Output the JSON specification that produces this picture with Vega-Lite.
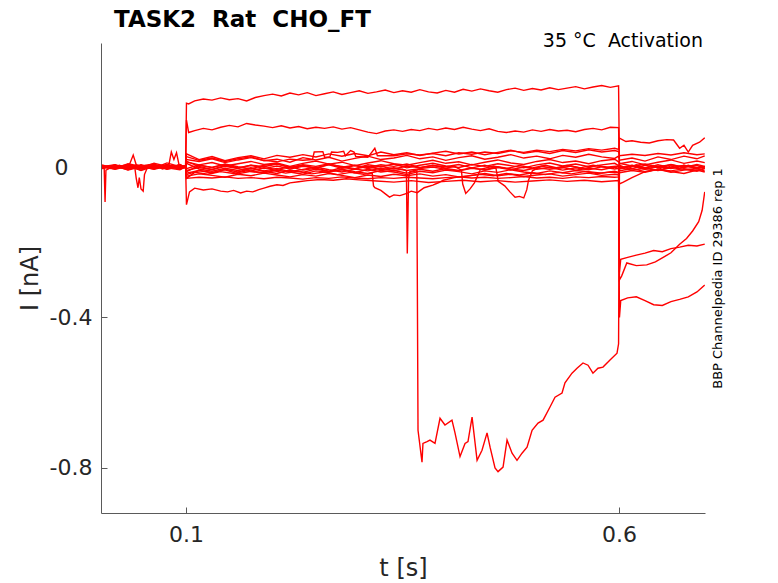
{
  "$schema": "https://vega.github.io/schema/vega-lite/v6.json",
  "description": "Current traces of a voltage-clamp activation protocol, several sweeps overlaid.",
  "width": 604,
  "height": 470,
  "autosize": {"type": "none"},
  "padding": {"left": 101, "top": 43, "right": 73, "bottom": 70},
  "title": {
    "text": "TASK2\u00a0 Rat\u00a0 CHO_FT",
    "anchor": "start",
    "frame": "group",
    "dx": 13,
    "offset": -18,
    "baseline": "alphabetic",
    "font": "DejaVu Sans",
    "fontSize": 23,
    "fontWeight": "bold",
    "color": "#000000"
  },
  "datasets": {
    "sweeps": [
      {"sweep": "A", "t": 0.003, "i": 0.002}, {"sweep": "A", "t": 0.013, "i": -0.004}, {"sweep": "A", "t": 0.023, "i": 0.005}, {"sweep": "A", "t": 0.033, "i": -0.003}, {"sweep": "A", "t": 0.043, "i": 0.006}, {"sweep": "A", "t": 0.053, "i": -0.002}, {"sweep": "A", "t": 0.063, "i": 0.004}, {"sweep": "A", "t": 0.073, "i": -0.005}, {"sweep": "A", "t": 0.083, "i": 0.003}, {"sweep": "A", "t": 0.093, "i": -0.002}, {"sweep": "A", "t": 0.0995, "i": 0.001},
      {"sweep": "A", "t": 0.1005, "i": 0.17}, {"sweep": "A", "t": 0.103, "i": 0.168}, {"sweep": "A", "t": 0.11, "i": 0.176}, {"sweep": "A", "t": 0.12, "i": 0.181}, {"sweep": "A", "t": 0.13, "i": 0.178}, {"sweep": "A", "t": 0.14, "i": 0.184}, {"sweep": "A", "t": 0.15, "i": 0.179}, {"sweep": "A", "t": 0.16, "i": 0.182}, {"sweep": "A", "t": 0.17, "i": 0.176}, {"sweep": "A", "t": 0.18, "i": 0.185}, {"sweep": "A", "t": 0.19, "i": 0.19}, {"sweep": "A", "t": 0.2, "i": 0.194}, {"sweep": "A", "t": 0.21, "i": 0.189}, {"sweep": "A", "t": 0.22, "i": 0.197}, {"sweep": "A", "t": 0.23, "i": 0.192}, {"sweep": "A", "t": 0.24, "i": 0.198}, {"sweep": "A", "t": 0.25, "i": 0.19}, {"sweep": "A", "t": 0.26, "i": 0.195}, {"sweep": "A", "t": 0.27, "i": 0.2}, {"sweep": "A", "t": 0.28, "i": 0.193}, {"sweep": "A", "t": 0.29, "i": 0.198}, {"sweep": "A", "t": 0.3, "i": 0.203}, {"sweep": "A", "t": 0.31, "i": 0.196}, {"sweep": "A", "t": 0.32, "i": 0.2}, {"sweep": "A", "t": 0.33, "i": 0.205}, {"sweep": "A", "t": 0.34, "i": 0.198}, {"sweep": "A", "t": 0.35, "i": 0.203}, {"sweep": "A", "t": 0.36, "i": 0.199}, {"sweep": "A", "t": 0.37, "i": 0.206}, {"sweep": "A", "t": 0.38, "i": 0.2}, {"sweep": "A", "t": 0.39, "i": 0.197}, {"sweep": "A", "t": 0.4, "i": 0.204}, {"sweep": "A", "t": 0.41, "i": 0.199}, {"sweep": "A", "t": 0.42, "i": 0.207}, {"sweep": "A", "t": 0.43, "i": 0.202}, {"sweep": "A", "t": 0.44, "i": 0.208}, {"sweep": "A", "t": 0.45, "i": 0.203}, {"sweep": "A", "t": 0.46, "i": 0.199}, {"sweep": "A", "t": 0.47, "i": 0.206}, {"sweep": "A", "t": 0.48, "i": 0.21}, {"sweep": "A", "t": 0.49, "i": 0.204}, {"sweep": "A", "t": 0.5, "i": 0.209}, {"sweep": "A", "t": 0.51, "i": 0.205}, {"sweep": "A", "t": 0.52, "i": 0.211}, {"sweep": "A", "t": 0.53, "i": 0.206}, {"sweep": "A", "t": 0.54, "i": 0.21}, {"sweep": "A", "t": 0.55, "i": 0.214}, {"sweep": "A", "t": 0.56, "i": 0.208}, {"sweep": "A", "t": 0.57, "i": 0.213}, {"sweep": "A", "t": 0.58, "i": 0.217}, {"sweep": "A", "t": 0.59, "i": 0.212}, {"sweep": "A", "t": 0.5995, "i": 0.216},
      {"sweep": "A", "t": 0.6005, "i": 0.005}, {"sweep": "A", "t": 0.61, "i": -0.004}, {"sweep": "A", "t": 0.62, "i": 0.006}, {"sweep": "A", "t": 0.63, "i": -0.002}, {"sweep": "A", "t": 0.64, "i": 0.004}, {"sweep": "A", "t": 0.65, "i": -0.006}, {"sweep": "A", "t": 0.66, "i": 0.003}, {"sweep": "A", "t": 0.67, "i": -0.003}, {"sweep": "A", "t": 0.68, "i": 0.005}, {"sweep": "A", "t": 0.69, "i": -0.002}, {"sweep": "A", "t": 0.699, "i": 0.002},

      {"sweep": "B", "t": 0.003, "i": -0.001}, {"sweep": "B", "t": 0.018, "i": 0.005}, {"sweep": "B", "t": 0.033, "i": -0.003}, {"sweep": "B", "t": 0.048, "i": 0.006}, {"sweep": "B", "t": 0.063, "i": -0.004}, {"sweep": "B", "t": 0.078, "i": 0.003}, {"sweep": "B", "t": 0.093, "i": -0.002}, {"sweep": "B", "t": 0.0995, "i": 0.002},
      {"sweep": "B", "t": 0.1005, "i": 0.125}, {"sweep": "B", "t": 0.103, "i": 0.092}, {"sweep": "B", "t": 0.11, "i": 0.097}, {"sweep": "B", "t": 0.12, "i": 0.103}, {"sweep": "B", "t": 0.13, "i": 0.099}, {"sweep": "B", "t": 0.14, "i": 0.106}, {"sweep": "B", "t": 0.15, "i": 0.111}, {"sweep": "B", "t": 0.16, "i": 0.107}, {"sweep": "B", "t": 0.17, "i": 0.116}, {"sweep": "B", "t": 0.18, "i": 0.112}, {"sweep": "B", "t": 0.19, "i": 0.109}, {"sweep": "B", "t": 0.2, "i": 0.105}, {"sweep": "B", "t": 0.21, "i": 0.11}, {"sweep": "B", "t": 0.22, "i": 0.104}, {"sweep": "B", "t": 0.23, "i": 0.108}, {"sweep": "B", "t": 0.24, "i": 0.102}, {"sweep": "B", "t": 0.25, "i": 0.106}, {"sweep": "B", "t": 0.26, "i": 0.103}, {"sweep": "B", "t": 0.27, "i": 0.107}, {"sweep": "B", "t": 0.28, "i": 0.101}, {"sweep": "B", "t": 0.29, "i": 0.105}, {"sweep": "B", "t": 0.3, "i": 0.099}, {"sweep": "B", "t": 0.31, "i": 0.093}, {"sweep": "B", "t": 0.32, "i": 0.089}, {"sweep": "B", "t": 0.33, "i": 0.096}, {"sweep": "B", "t": 0.34, "i": 0.099}, {"sweep": "B", "t": 0.35, "i": 0.095}, {"sweep": "B", "t": 0.36, "i": 0.1}, {"sweep": "B", "t": 0.37, "i": 0.097}, {"sweep": "B", "t": 0.38, "i": 0.103}, {"sweep": "B", "t": 0.39, "i": 0.099}, {"sweep": "B", "t": 0.4, "i": 0.104}, {"sweep": "B", "t": 0.41, "i": 0.1}, {"sweep": "B", "t": 0.42, "i": 0.106}, {"sweep": "B", "t": 0.43, "i": 0.101}, {"sweep": "B", "t": 0.44, "i": 0.097}, {"sweep": "B", "t": 0.45, "i": 0.102}, {"sweep": "B", "t": 0.46, "i": 0.095}, {"sweep": "B", "t": 0.47, "i": 0.092}, {"sweep": "B", "t": 0.48, "i": 0.096}, {"sweep": "B", "t": 0.49, "i": 0.093}, {"sweep": "B", "t": 0.5, "i": 0.099}, {"sweep": "B", "t": 0.51, "i": 0.095}, {"sweep": "B", "t": 0.52, "i": 0.1}, {"sweep": "B", "t": 0.53, "i": 0.096}, {"sweep": "B", "t": 0.54, "i": 0.098}, {"sweep": "B", "t": 0.55, "i": 0.094}, {"sweep": "B", "t": 0.56, "i": 0.1}, {"sweep": "B", "t": 0.57, "i": 0.103}, {"sweep": "B", "t": 0.58, "i": 0.099}, {"sweep": "B", "t": 0.59, "i": 0.106}, {"sweep": "B", "t": 0.5995, "i": 0.105},
      {"sweep": "B", "t": 0.6005, "i": -0.002}, {"sweep": "B", "t": 0.615, "i": 0.005}, {"sweep": "B", "t": 0.63, "i": -0.003}, {"sweep": "B", "t": 0.645, "i": 0.006}, {"sweep": "B", "t": 0.66, "i": -0.002}, {"sweep": "B", "t": 0.675, "i": 0.004}, {"sweep": "B", "t": 0.69, "i": -0.004}, {"sweep": "B", "t": 0.699, "i": 0.001},

      {"sweep": "E", "t": 0.003, "i": 0.0}, {"sweep": "E", "t": 0.018, "i": 0.005}, {"sweep": "E", "t": 0.033, "i": -0.004}, {"sweep": "E", "t": 0.048, "i": 0.003}, {"sweep": "E", "t": 0.063, "i": -0.006}, {"sweep": "E", "t": 0.078, "i": 0.002}, {"sweep": "E", "t": 0.093, "i": -0.003}, {"sweep": "E", "t": 0.0995, "i": 0.001},
      {"sweep": "E", "t": 0.1005, "i": -0.1}, {"sweep": "E", "t": 0.104, "i": -0.066}, {"sweep": "E", "t": 0.11, "i": -0.056}, {"sweep": "E", "t": 0.12, "i": -0.061}, {"sweep": "E", "t": 0.13, "i": -0.058}, {"sweep": "E", "t": 0.14, "i": -0.064}, {"sweep": "E", "t": 0.148, "i": -0.066}, {"sweep": "E", "t": 0.155, "i": -0.062}, {"sweep": "E", "t": 0.163, "i": -0.069}, {"sweep": "E", "t": 0.17, "i": -0.064}, {"sweep": "E", "t": 0.177, "i": -0.066}, {"sweep": "E", "t": 0.184, "i": -0.06}, {"sweep": "E", "t": 0.19, "i": -0.056}, {"sweep": "E", "t": 0.197, "i": -0.051}, {"sweep": "E", "t": 0.205, "i": -0.047}, {"sweep": "E", "t": 0.212, "i": -0.049}, {"sweep": "E", "t": 0.22, "i": -0.042}, {"sweep": "E", "t": 0.23, "i": -0.039}, {"sweep": "E", "t": 0.24, "i": -0.036}, {"sweep": "E", "t": 0.255, "i": -0.033}, {"sweep": "E", "t": 0.27, "i": -0.035}, {"sweep": "E", "t": 0.285, "i": -0.031}, {"sweep": "E", "t": 0.3, "i": -0.034}, {"sweep": "E", "t": 0.32, "i": -0.037}, {"sweep": "E", "t": 0.34, "i": -0.04}, {"sweep": "E", "t": 0.36, "i": -0.036}, {"sweep": "E", "t": 0.38, "i": -0.041}, {"sweep": "E", "t": 0.4, "i": -0.038}, {"sweep": "E", "t": 0.42, "i": -0.035}, {"sweep": "E", "t": 0.44, "i": -0.039}, {"sweep": "E", "t": 0.46, "i": -0.036}, {"sweep": "E", "t": 0.48, "i": -0.04}, {"sweep": "E", "t": 0.5, "i": -0.037}, {"sweep": "E", "t": 0.52, "i": -0.034}, {"sweep": "E", "t": 0.54, "i": -0.038}, {"sweep": "E", "t": 0.56, "i": -0.035}, {"sweep": "E", "t": 0.58, "i": -0.039}, {"sweep": "E", "t": 0.5995, "i": -0.036},
      {"sweep": "E", "t": 0.6005, "i": -0.28}, {"sweep": "E", "t": 0.602, "i": -0.245}, {"sweep": "E", "t": 0.61, "i": -0.24}, {"sweep": "E", "t": 0.62, "i": -0.234}, {"sweep": "E", "t": 0.63, "i": -0.229}, {"sweep": "E", "t": 0.64, "i": -0.222}, {"sweep": "E", "t": 0.65, "i": -0.225}, {"sweep": "E", "t": 0.66, "i": -0.217}, {"sweep": "E", "t": 0.67, "i": -0.213}, {"sweep": "E", "t": 0.68, "i": -0.208}, {"sweep": "E", "t": 0.69, "i": -0.21}, {"sweep": "E", "t": 0.699, "i": -0.205},

      {"sweep": "F", "t": 0.003, "i": -0.002}, {"sweep": "F", "t": 0.018, "i": 0.003}, {"sweep": "F", "t": 0.033, "i": -0.005}, {"sweep": "F", "t": 0.048, "i": 0.004}, {"sweep": "F", "t": 0.063, "i": -0.001}, {"sweep": "F", "t": 0.078, "i": 0.006}, {"sweep": "F", "t": 0.093, "i": -0.004}, {"sweep": "F", "t": 0.0995, "i": 0.0},
      {"sweep": "F", "t": 0.1005, "i": -0.03}, {"sweep": "F", "t": 0.11, "i": -0.014}, {"sweep": "F", "t": 0.125, "i": -0.019}, {"sweep": "F", "t": 0.14, "i": -0.012}, {"sweep": "F", "t": 0.155, "i": -0.017}, {"sweep": "F", "t": 0.17, "i": -0.01}, {"sweep": "F", "t": 0.185, "i": -0.015}, {"sweep": "F", "t": 0.2, "i": -0.009}, {"sweep": "F", "t": 0.215, "i": -0.016}, {"sweep": "F", "t": 0.23, "i": -0.011}, {"sweep": "F", "t": 0.245, "i": -0.018}, {"sweep": "F", "t": 0.26, "i": -0.013}, {"sweep": "F", "t": 0.275, "i": -0.02}, {"sweep": "F", "t": 0.29, "i": -0.014}, {"sweep": "F", "t": 0.305, "i": -0.019}, {"sweep": "F", "t": 0.315, "i": -0.016}, {"sweep": "F", "t": 0.3165, "i": -0.05}, {"sweep": "F", "t": 0.318, "i": -0.055}, {"sweep": "F", "t": 0.325, "i": -0.062}, {"sweep": "F", "t": 0.335, "i": -0.08}, {"sweep": "F", "t": 0.34, "i": -0.074}, {"sweep": "F", "t": 0.347, "i": -0.076}, {"sweep": "F", "t": 0.355, "i": -0.07}, {"sweep": "F", "t": 0.36, "i": -0.064}, {"sweep": "F", "t": 0.367, "i": -0.068}, {"sweep": "F", "t": 0.375, "i": -0.055}, {"sweep": "F", "t": 0.385, "i": -0.048}, {"sweep": "F", "t": 0.392, "i": -0.041}, {"sweep": "F", "t": 0.397, "i": -0.035}, {"sweep": "F", "t": 0.41, "i": -0.028}, {"sweep": "F", "t": 0.425, "i": -0.024}, {"sweep": "F", "t": 0.44, "i": -0.019}, {"sweep": "F", "t": 0.455, "i": -0.023}, {"sweep": "F", "t": 0.47, "i": -0.017}, {"sweep": "F", "t": 0.485, "i": -0.021}, {"sweep": "F", "t": 0.5, "i": -0.015}, {"sweep": "F", "t": 0.515, "i": -0.02}, {"sweep": "F", "t": 0.53, "i": -0.014}, {"sweep": "F", "t": 0.545, "i": -0.018}, {"sweep": "F", "t": 0.56, "i": -0.012}, {"sweep": "F", "t": 0.575, "i": -0.017}, {"sweep": "F", "t": 0.59, "i": -0.013}, {"sweep": "F", "t": 0.5995, "i": -0.015},
      {"sweep": "F", "t": 0.6005, "i": -0.4}, {"sweep": "F", "t": 0.602, "i": -0.355}, {"sweep": "F", "t": 0.61, "i": -0.348}, {"sweep": "F", "t": 0.62, "i": -0.345}, {"sweep": "F", "t": 0.63, "i": -0.355}, {"sweep": "F", "t": 0.64, "i": -0.366}, {"sweep": "F", "t": 0.65, "i": -0.368}, {"sweep": "F", "t": 0.66, "i": -0.358}, {"sweep": "F", "t": 0.67, "i": -0.352}, {"sweep": "F", "t": 0.68, "i": -0.345}, {"sweep": "F", "t": 0.69, "i": -0.332}, {"sweep": "F", "t": 0.699, "i": -0.314},

      {"sweep": "S", "t": 0.003, "i": 0.003}, {"sweep": "S", "t": 0.018, "i": -0.004}, {"sweep": "S", "t": 0.033, "i": 0.006}, {"sweep": "S", "t": 0.048, "i": -0.002}, {"sweep": "S", "t": 0.063, "i": 0.005}, {"sweep": "S", "t": 0.078, "i": -0.006}, {"sweep": "S", "t": 0.093, "i": 0.002}, {"sweep": "S", "t": 0.0995, "i": -0.001},
      {"sweep": "S", "t": 0.1005, "i": 0.01}, {"sweep": "S", "t": 0.115, "i": -0.005}, {"sweep": "S", "t": 0.13, "i": -0.011}, {"sweep": "S", "t": 0.145, "i": -0.003}, {"sweep": "S", "t": 0.16, "i": -0.009}, {"sweep": "S", "t": 0.175, "i": -0.002}, {"sweep": "S", "t": 0.19, "i": -0.01}, {"sweep": "S", "t": 0.205, "i": -0.004}, {"sweep": "S", "t": 0.22, "i": -0.012}, {"sweep": "S", "t": 0.235, "i": -0.006}, {"sweep": "S", "t": 0.25, "i": 0.0}, {"sweep": "S", "t": 0.265, "i": -0.007}, {"sweep": "S", "t": 0.28, "i": -0.013}, {"sweep": "S", "t": 0.295, "i": -0.005}, {"sweep": "S", "t": 0.31, "i": -0.01}, {"sweep": "S", "t": 0.325, "i": -0.003}, {"sweep": "S", "t": 0.34, "i": -0.009}, {"sweep": "S", "t": 0.35, "i": -0.006}, {"sweep": "S", "t": 0.3545, "i": -0.01}, {"sweep": "S", "t": 0.3555, "i": -0.23}, {"sweep": "S", "t": 0.357, "i": -0.03}, {"sweep": "S", "t": 0.3585, "i": -0.012}, {"sweep": "S", "t": 0.37, "i": -0.006}, {"sweep": "S", "t": 0.385, "i": -0.011}, {"sweep": "S", "t": 0.4, "i": -0.004}, {"sweep": "S", "t": 0.415, "i": -0.009}, {"sweep": "S", "t": 0.43, "i": -0.002}, {"sweep": "S", "t": 0.445, "i": -0.008}, {"sweep": "S", "t": 0.46, "i": -0.001}, {"sweep": "S", "t": 0.475, "i": -0.007}, {"sweep": "S", "t": 0.49, "i": 0.0}, {"sweep": "S", "t": 0.505, "i": -0.006}, {"sweep": "S", "t": 0.52, "i": -0.001}, {"sweep": "S", "t": 0.535, "i": -0.008}, {"sweep": "S", "t": 0.55, "i": -0.002}, {"sweep": "S", "t": 0.565, "i": -0.007}, {"sweep": "S", "t": 0.58, "i": 0.001}, {"sweep": "S", "t": 0.595, "i": -0.005}, {"sweep": "S", "t": 0.5995, "i": -0.003},
      {"sweep": "S", "t": 0.6005, "i": -0.3}, {"sweep": "S", "t": 0.603, "i": -0.29}, {"sweep": "S", "t": 0.609, "i": -0.255}, {"sweep": "S", "t": 0.62, "i": -0.262}, {"sweep": "S", "t": 0.632, "i": -0.26}, {"sweep": "S", "t": 0.642, "i": -0.252}, {"sweep": "S", "t": 0.651, "i": -0.24}, {"sweep": "S", "t": 0.66, "i": -0.228}, {"sweep": "S", "t": 0.67, "i": -0.205}, {"sweep": "S", "t": 0.678, "i": -0.19}, {"sweep": "S", "t": 0.685, "i": -0.17}, {"sweep": "S", "t": 0.692, "i": -0.145}, {"sweep": "S", "t": 0.696, "i": -0.115}, {"sweep": "S", "t": 0.699, "i": -0.066},

      {"sweep": "G", "t": 0.003, "i": 0.001}, {"sweep": "G", "t": 0.018, "i": -0.003}, {"sweep": "G", "t": 0.033, "i": 0.004}, {"sweep": "G", "t": 0.048, "i": -0.005}, {"sweep": "G", "t": 0.063, "i": 0.003}, {"sweep": "G", "t": 0.078, "i": -0.002}, {"sweep": "G", "t": 0.093, "i": 0.005}, {"sweep": "G", "t": 0.0995, "i": 0.0},
      {"sweep": "G", "t": 0.1005, "i": -0.02}, {"sweep": "G", "t": 0.115, "i": -0.009}, {"sweep": "G", "t": 0.13, "i": -0.016}, {"sweep": "G", "t": 0.145, "i": -0.006}, {"sweep": "G", "t": 0.16, "i": -0.013}, {"sweep": "G", "t": 0.175, "i": -0.004}, {"sweep": "G", "t": 0.19, "i": -0.011}, {"sweep": "G", "t": 0.205, "i": -0.017}, {"sweep": "G", "t": 0.22, "i": -0.008}, {"sweep": "G", "t": 0.235, "i": -0.014}, {"sweep": "G", "t": 0.25, "i": -0.005}, {"sweep": "G", "t": 0.265, "i": -0.012}, {"sweep": "G", "t": 0.28, "i": -0.007}, {"sweep": "G", "t": 0.295, "i": -0.015}, {"sweep": "G", "t": 0.31, "i": -0.006}, {"sweep": "G", "t": 0.325, "i": -0.013}, {"sweep": "G", "t": 0.34, "i": -0.009}, {"sweep": "G", "t": 0.355, "i": -0.016}, {"sweep": "G", "t": 0.3665, "i": -0.01},
      {"sweep": "G", "t": 0.3679, "i": -0.7}, {"sweep": "G", "t": 0.3725, "i": -0.785}, {"sweep": "G", "t": 0.3736, "i": -0.735}, {"sweep": "G", "t": 0.3783, "i": -0.73}, {"sweep": "G", "t": 0.3817, "i": -0.726}, {"sweep": "G", "t": 0.3875, "i": -0.735}, {"sweep": "G", "t": 0.3933, "i": -0.668}, {"sweep": "G", "t": 0.399, "i": -0.686}, {"sweep": "G", "t": 0.4071, "i": -0.673}, {"sweep": "G", "t": 0.4106, "i": -0.707}, {"sweep": "G", "t": 0.4164, "i": -0.77}, {"sweep": "G", "t": 0.4222, "i": -0.735}, {"sweep": "G", "t": 0.4256, "i": -0.73}, {"sweep": "G", "t": 0.4303, "i": -0.665}, {"sweep": "G", "t": 0.4361, "i": -0.78}, {"sweep": "G", "t": 0.4418, "i": -0.753}, {"sweep": "G", "t": 0.4476, "i": -0.707}, {"sweep": "G", "t": 0.4511, "i": -0.745}, {"sweep": "G", "t": 0.4568, "i": -0.8}, {"sweep": "G", "t": 0.4603, "i": -0.81}, {"sweep": "G", "t": 0.4661, "i": -0.798}, {"sweep": "G", "t": 0.4707, "i": -0.726}, {"sweep": "G", "t": 0.4765, "i": -0.761}, {"sweep": "G", "t": 0.4822, "i": -0.78}, {"sweep": "G", "t": 0.488, "i": -0.761}, {"sweep": "G", "t": 0.4938, "i": -0.745}, {"sweep": "G", "t": 0.4996, "i": -0.7}, {"sweep": "G", "t": 0.5065, "i": -0.681}, {"sweep": "G", "t": 0.5123, "i": -0.673}, {"sweep": "G", "t": 0.5203, "i": -0.638}, {"sweep": "G", "t": 0.5261, "i": -0.612}, {"sweep": "G", "t": 0.5342, "i": -0.601}, {"sweep": "G", "t": 0.5376, "i": -0.574}, {"sweep": "G", "t": 0.5457, "i": -0.548}, {"sweep": "G", "t": 0.5515, "i": -0.535}, {"sweep": "G", "t": 0.5584, "i": -0.521}, {"sweep": "G", "t": 0.5642, "i": -0.527}, {"sweep": "G", "t": 0.5699, "i": -0.548}, {"sweep": "G", "t": 0.5757, "i": -0.535}, {"sweep": "G", "t": 0.5815, "i": -0.532}, {"sweep": "G", "t": 0.5896, "i": -0.513}, {"sweep": "G", "t": 0.5977, "i": -0.495}, {"sweep": "G", "t": 0.5995, "i": -0.47},
      {"sweep": "G", "t": 0.6005, "i": -0.005}, {"sweep": "G", "t": 0.615, "i": 0.004}, {"sweep": "G", "t": 0.63, "i": -0.006}, {"sweep": "G", "t": 0.645, "i": 0.002}, {"sweep": "G", "t": 0.66, "i": -0.004}, {"sweep": "G", "t": 0.675, "i": 0.005}, {"sweep": "G", "t": 0.69, "i": -0.003}, {"sweep": "G", "t": 0.699, "i": 0.001},

      {"sweep": "D1", "t": 0.003, "i": -0.001}, {"sweep": "D1", "t": 0.018, "i": 0.004}, {"sweep": "D1", "t": 0.033, "i": -0.005}, {"sweep": "D1", "t": 0.048, "i": 0.002}, {"sweep": "D1", "t": 0.063, "i": -0.003}, {"sweep": "D1", "t": 0.078, "i": 0.006}, {"sweep": "D1", "t": 0.093, "i": -0.002}, {"sweep": "D1", "t": 0.0995, "i": 0.003},
      {"sweep": "D1", "t": 0.1005, "i": 0.015}, {"sweep": "D1", "t": 0.115, "i": 0.002}, {"sweep": "D1", "t": 0.13, "i": -0.006}, {"sweep": "D1", "t": 0.145, "i": 0.004}, {"sweep": "D1", "t": 0.16, "i": -0.003}, {"sweep": "D1", "t": 0.175, "i": 0.005}, {"sweep": "D1", "t": 0.19, "i": -0.004}, {"sweep": "D1", "t": 0.205, "i": 0.003}, {"sweep": "D1", "t": 0.22, "i": -0.005}, {"sweep": "D1", "t": 0.235, "i": 0.002}, {"sweep": "D1", "t": 0.25, "i": -0.002}, {"sweep": "D1", "t": 0.265, "i": 0.006}, {"sweep": "D1", "t": 0.28, "i": -0.003}, {"sweep": "D1", "t": 0.295, "i": 0.004}, {"sweep": "D1", "t": 0.31, "i": -0.004}, {"sweep": "D1", "t": 0.325, "i": 0.002}, {"sweep": "D1", "t": 0.34, "i": -0.005}, {"sweep": "D1", "t": 0.355, "i": 0.003}, {"sweep": "D1", "t": 0.37, "i": -0.002}, {"sweep": "D1", "t": 0.385, "i": 0.005}, {"sweep": "D1", "t": 0.4, "i": -0.003}, {"sweep": "D1", "t": 0.41, "i": 0.002}, {"sweep": "D1", "t": 0.418, "i": -0.008}, {"sweep": "D1", "t": 0.4195, "i": -0.045}, {"sweep": "D1", "t": 0.423, "i": -0.07}, {"sweep": "D1", "t": 0.428, "i": -0.058}, {"sweep": "D1", "t": 0.433, "i": -0.042}, {"sweep": "D1", "t": 0.437, "i": -0.022}, {"sweep": "D1", "t": 0.44, "i": -0.006}, {"sweep": "D1", "t": 0.455, "i": 0.003}, {"sweep": "D1", "t": 0.47, "i": -0.004}, {"sweep": "D1", "t": 0.485, "i": 0.004}, {"sweep": "D1", "t": 0.5, "i": -0.002}, {"sweep": "D1", "t": 0.515, "i": 0.005}, {"sweep": "D1", "t": 0.53, "i": -0.003}, {"sweep": "D1", "t": 0.545, "i": 0.003}, {"sweep": "D1", "t": 0.56, "i": -0.004}, {"sweep": "D1", "t": 0.575, "i": 0.004}, {"sweep": "D1", "t": 0.59, "i": -0.002}, {"sweep": "D1", "t": 0.5995, "i": 0.002},
      {"sweep": "D1", "t": 0.6005, "i": -0.045}, {"sweep": "D1", "t": 0.605, "i": -0.04}, {"sweep": "D1", "t": 0.615, "i": -0.028}, {"sweep": "D1", "t": 0.63, "i": -0.012}, {"sweep": "D1", "t": 0.645, "i": -0.006}, {"sweep": "D1", "t": 0.66, "i": -0.01}, {"sweep": "D1", "t": 0.675, "i": -0.004}, {"sweep": "D1", "t": 0.69, "i": -0.008}, {"sweep": "D1", "t": 0.699, "i": -0.003},

      {"sweep": "D2", "t": 0.003, "i": 0.002}, {"sweep": "D2", "t": 0.018, "i": -0.003}, {"sweep": "D2", "t": 0.033, "i": 0.005}, {"sweep": "D2", "t": 0.041, "i": -0.004}, {"sweep": "D2", "t": 0.0425, "i": -0.03}, {"sweep": "D2", "t": 0.0445, "i": -0.055}, {"sweep": "D2", "t": 0.046, "i": -0.028}, {"sweep": "D2", "t": 0.048, "i": -0.058}, {"sweep": "D2", "t": 0.0505, "i": -0.064}, {"sweep": "D2", "t": 0.052, "i": -0.02}, {"sweep": "D2", "t": 0.056, "i": 0.002}, {"sweep": "D2", "t": 0.063, "i": -0.002}, {"sweep": "D2", "t": 0.078, "i": 0.004}, {"sweep": "D2", "t": 0.093, "i": -0.001}, {"sweep": "D2", "t": 0.0995, "i": 0.002},
      {"sweep": "D2", "t": 0.1005, "i": -0.012}, {"sweep": "D2", "t": 0.115, "i": 0.004}, {"sweep": "D2", "t": 0.13, "i": 0.0}, {"sweep": "D2", "t": 0.145, "i": 0.007}, {"sweep": "D2", "t": 0.16, "i": -0.002}, {"sweep": "D2", "t": 0.175, "i": 0.005}, {"sweep": "D2", "t": 0.19, "i": 0.001}, {"sweep": "D2", "t": 0.205, "i": 0.008}, {"sweep": "D2", "t": 0.22, "i": -0.001}, {"sweep": "D2", "t": 0.235, "i": 0.006}, {"sweep": "D2", "t": 0.25, "i": 0.002}, {"sweep": "D2", "t": 0.265, "i": 0.009}, {"sweep": "D2", "t": 0.28, "i": 0.0}, {"sweep": "D2", "t": 0.295, "i": 0.005}, {"sweep": "D2", "t": 0.31, "i": -0.001}, {"sweep": "D2", "t": 0.325, "i": 0.006}, {"sweep": "D2", "t": 0.34, "i": 0.002}, {"sweep": "D2", "t": 0.355, "i": 0.008}, {"sweep": "D2", "t": 0.37, "i": -0.001}, {"sweep": "D2", "t": 0.385, "i": 0.004}, {"sweep": "D2", "t": 0.4, "i": 0.001}, {"sweep": "D2", "t": 0.415, "i": 0.007}, {"sweep": "D2", "t": 0.43, "i": -0.002}, {"sweep": "D2", "t": 0.445, "i": 0.005}, {"sweep": "D2", "t": 0.458, "i": -0.004}, {"sweep": "D2", "t": 0.4605, "i": -0.038}, {"sweep": "D2", "t": 0.468, "i": -0.05}, {"sweep": "D2", "t": 0.474, "i": -0.066}, {"sweep": "D2", "t": 0.48, "i": -0.08}, {"sweep": "D2", "t": 0.485, "i": -0.078}, {"sweep": "D2", "t": 0.49, "i": -0.082}, {"sweep": "D2", "t": 0.4935, "i": -0.06}, {"sweep": "D2", "t": 0.4955, "i": -0.035}, {"sweep": "D2", "t": 0.5, "i": -0.01}, {"sweep": "D2", "t": 0.51, "i": 0.002}, {"sweep": "D2", "t": 0.525, "i": -0.003}, {"sweep": "D2", "t": 0.54, "i": 0.004}, {"sweep": "D2", "t": 0.555, "i": -0.002}, {"sweep": "D2", "t": 0.57, "i": 0.005}, {"sweep": "D2", "t": 0.585, "i": 0.0}, {"sweep": "D2", "t": 0.5995, "i": 0.003},
      {"sweep": "D2", "t": 0.6005, "i": 0.01}, {"sweep": "D2", "t": 0.615, "i": 0.003}, {"sweep": "D2", "t": 0.63, "i": 0.008}, {"sweep": "D2", "t": 0.645, "i": 0.001}, {"sweep": "D2", "t": 0.66, "i": 0.006}, {"sweep": "D2", "t": 0.675, "i": -0.001}, {"sweep": "D2", "t": 0.69, "i": 0.007}, {"sweep": "D2", "t": 0.699, "i": 0.002},

      {"sweep": "b1", "t": 0.003, "i": 0.001}, {"sweep": "b1", "t": 0.018, "i": 0.006}, {"sweep": "b1", "t": 0.033, "i": -0.003}, {"sweep": "b1", "t": 0.039, "i": 0.032}, {"sweep": "b1", "t": 0.043, "i": 0.002}, {"sweep": "b1", "t": 0.063, "i": -0.004}, {"sweep": "b1", "t": 0.08, "i": 0.004}, {"sweep": "b1", "t": 0.083, "i": 0.04}, {"sweep": "b1", "t": 0.086, "i": 0.02}, {"sweep": "b1", "t": 0.089, "i": 0.038}, {"sweep": "b1", "t": 0.092, "i": 0.005}, {"sweep": "b1", "t": 0.0995, "i": 0.002},
      {"sweep": "b1", "t": 0.1005, "i": 0.035}, {"sweep": "b1", "t": 0.115, "i": 0.02}, {"sweep": "b1", "t": 0.13, "i": 0.028}, {"sweep": "b1", "t": 0.145, "i": 0.017}, {"sweep": "b1", "t": 0.16, "i": 0.025}, {"sweep": "b1", "t": 0.175, "i": 0.03}, {"sweep": "b1", "t": 0.19, "i": 0.022}, {"sweep": "b1", "t": 0.205, "i": 0.031}, {"sweep": "b1", "t": 0.22, "i": 0.026}, {"sweep": "b1", "t": 0.235, "i": 0.033}, {"sweep": "b1", "t": 0.25, "i": 0.027}, {"sweep": "b1", "t": 0.265, "i": 0.035}, {"sweep": "b1", "t": 0.28, "i": 0.029}, {"sweep": "b1", "t": 0.295, "i": 0.036}, {"sweep": "b1", "t": 0.31, "i": 0.03}, {"sweep": "b1", "t": 0.325, "i": 0.04}, {"sweep": "b1", "t": 0.34, "i": 0.033}, {"sweep": "b1", "t": 0.355, "i": 0.038}, {"sweep": "b1", "t": 0.37, "i": 0.031}, {"sweep": "b1", "t": 0.385, "i": 0.037}, {"sweep": "b1", "t": 0.4, "i": 0.042}, {"sweep": "b1", "t": 0.415, "i": 0.035}, {"sweep": "b1", "t": 0.43, "i": 0.04}, {"sweep": "b1", "t": 0.445, "i": 0.033}, {"sweep": "b1", "t": 0.46, "i": 0.039}, {"sweep": "b1", "t": 0.475, "i": 0.045}, {"sweep": "b1", "t": 0.49, "i": 0.037}, {"sweep": "b1", "t": 0.505, "i": 0.042}, {"sweep": "b1", "t": 0.52, "i": 0.036}, {"sweep": "b1", "t": 0.535, "i": 0.044}, {"sweep": "b1", "t": 0.55, "i": 0.039}, {"sweep": "b1", "t": 0.565, "i": 0.046}, {"sweep": "b1", "t": 0.58, "i": 0.04}, {"sweep": "b1", "t": 0.595, "i": 0.044}, {"sweep": "b1", "t": 0.5995, "i": 0.041},
      {"sweep": "b1", "t": 0.6005, "i": 0.03}, {"sweep": "b1", "t": 0.615, "i": 0.034}, {"sweep": "b1", "t": 0.63, "i": 0.031}, {"sweep": "b1", "t": 0.645, "i": 0.036}, {"sweep": "b1", "t": 0.66, "i": 0.032}, {"sweep": "b1", "t": 0.675, "i": 0.038}, {"sweep": "b1", "t": 0.69, "i": 0.033}, {"sweep": "b1", "t": 0.699, "i": 0.035},

      {"sweep": "b2", "t": 0.003, "i": 0.006}, {"sweep": "b2", "t": 0.018, "i": -0.004}, {"sweep": "b2", "t": 0.033, "i": 0.009}, {"sweep": "b2", "t": 0.048, "i": 0.002}, {"sweep": "b2", "t": 0.063, "i": -0.003}, {"sweep": "b2", "t": 0.078, "i": 0.011}, {"sweep": "b2", "t": 0.093, "i": 0.001}, {"sweep": "b2", "t": 0.0995, "i": 0.004},
      {"sweep": "b2", "t": 0.1005, "i": 0.028}, {"sweep": "b2", "t": 0.115, "i": 0.018}, {"sweep": "b2", "t": 0.13, "i": 0.024}, {"sweep": "b2", "t": 0.145, "i": 0.015}, {"sweep": "b2", "t": 0.16, "i": 0.022}, {"sweep": "b2", "t": 0.175, "i": 0.027}, {"sweep": "b2", "t": 0.19, "i": 0.017}, {"sweep": "b2", "t": 0.205, "i": 0.021}, {"sweep": "b2", "t": 0.22, "i": 0.013}, {"sweep": "b2", "t": 0.235, "i": 0.025}, {"sweep": "b2", "t": 0.25, "i": 0.019}, {"sweep": "b2", "t": 0.265, "i": 0.026}, {"sweep": "b2", "t": 0.28, "i": 0.016}, {"sweep": "b2", "t": 0.295, "i": 0.023}, {"sweep": "b2", "t": 0.31, "i": 0.029}, {"sweep": "b2", "t": 0.325, "i": 0.02}, {"sweep": "b2", "t": 0.34, "i": 0.024}, {"sweep": "b2", "t": 0.355, "i": 0.031}, {"sweep": "b2", "t": 0.37, "i": 0.022}, {"sweep": "b2", "t": 0.385, "i": 0.027}, {"sweep": "b2", "t": 0.4, "i": 0.018}, {"sweep": "b2", "t": 0.415, "i": 0.025}, {"sweep": "b2", "t": 0.43, "i": 0.03}, {"sweep": "b2", "t": 0.445, "i": 0.021}, {"sweep": "b2", "t": 0.46, "i": 0.026}, {"sweep": "b2", "t": 0.475, "i": 0.033}, {"sweep": "b2", "t": 0.49, "i": 0.024}, {"sweep": "b2", "t": 0.505, "i": 0.029}, {"sweep": "b2", "t": 0.52, "i": 0.022}, {"sweep": "b2", "t": 0.535, "i": 0.031}, {"sweep": "b2", "t": 0.55, "i": 0.026}, {"sweep": "b2", "t": 0.565, "i": 0.034}, {"sweep": "b2", "t": 0.58, "i": 0.027}, {"sweep": "b2", "t": 0.595, "i": 0.023}, {"sweep": "b2", "t": 0.5995, "i": 0.029},
      {"sweep": "b2", "t": 0.6005, "i": 0.018}, {"sweep": "b2", "t": 0.615, "i": 0.024}, {"sweep": "b2", "t": 0.63, "i": 0.016}, {"sweep": "b2", "t": 0.645, "i": 0.027}, {"sweep": "b2", "t": 0.66, "i": 0.02}, {"sweep": "b2", "t": 0.675, "i": 0.029}, {"sweep": "b2", "t": 0.69, "i": 0.022}, {"sweep": "b2", "t": 0.699, "i": 0.03},

      {"sweep": "b3", "t": 0.003, "i": -0.002}, {"sweep": "b3", "t": 0.018, "i": 0.005}, {"sweep": "b3", "t": 0.033, "i": -0.006}, {"sweep": "b3", "t": 0.048, "i": 0.003}, {"sweep": "b3", "t": 0.063, "i": 0.008}, {"sweep": "b3", "t": 0.078, "i": -0.004}, {"sweep": "b3", "t": 0.093, "i": 0.006}, {"sweep": "b3", "t": 0.0995, "i": -0.001},
      {"sweep": "b3", "t": 0.1005, "i": 0.014}, {"sweep": "b3", "t": 0.115, "i": 0.006}, {"sweep": "b3", "t": 0.13, "i": 0.012}, {"sweep": "b3", "t": 0.145, "i": 0.003}, {"sweep": "b3", "t": 0.16, "i": 0.009}, {"sweep": "b3", "t": 0.175, "i": 0.015}, {"sweep": "b3", "t": 0.19, "i": 0.007}, {"sweep": "b3", "t": 0.205, "i": 0.011}, {"sweep": "b3", "t": 0.22, "i": 0.002}, {"sweep": "b3", "t": 0.235, "i": 0.01}, {"sweep": "b3", "t": 0.25, "i": 0.016}, {"sweep": "b3", "t": 0.265, "i": 0.008}, {"sweep": "b3", "t": 0.28, "i": 0.013}, {"sweep": "b3", "t": 0.295, "i": 0.004}, {"sweep": "b3", "t": 0.31, "i": 0.011}, {"sweep": "b3", "t": 0.325, "i": 0.017}, {"sweep": "b3", "t": 0.34, "i": 0.009}, {"sweep": "b3", "t": 0.355, "i": 0.005}, {"sweep": "b3", "t": 0.37, "i": 0.012}, {"sweep": "b3", "t": 0.385, "i": 0.018}, {"sweep": "b3", "t": 0.4, "i": 0.01}, {"sweep": "b3", "t": 0.415, "i": 0.014}, {"sweep": "b3", "t": 0.43, "i": 0.006}, {"sweep": "b3", "t": 0.445, "i": 0.013}, {"sweep": "b3", "t": 0.46, "i": 0.019}, {"sweep": "b3", "t": 0.475, "i": 0.011}, {"sweep": "b3", "t": 0.49, "i": 0.007}, {"sweep": "b3", "t": 0.505, "i": 0.015}, {"sweep": "b3", "t": 0.52, "i": 0.02}, {"sweep": "b3", "t": 0.535, "i": 0.012}, {"sweep": "b3", "t": 0.55, "i": 0.016}, {"sweep": "b3", "t": 0.565, "i": 0.009}, {"sweep": "b3", "t": 0.58, "i": 0.017}, {"sweep": "b3", "t": 0.595, "i": 0.021}, {"sweep": "b3", "t": 0.5995, "i": 0.014},
      {"sweep": "b3", "t": 0.6005, "i": 0.009}, {"sweep": "b3", "t": 0.615, "i": 0.015}, {"sweep": "b3", "t": 0.63, "i": 0.006}, {"sweep": "b3", "t": 0.645, "i": 0.013}, {"sweep": "b3", "t": 0.66, "i": 0.019}, {"sweep": "b3", "t": 0.675, "i": 0.01}, {"sweep": "b3", "t": 0.69, "i": 0.016}, {"sweep": "b3", "t": 0.699, "i": 0.012},

      {"sweep": "b4", "t": 0.003, "i": 0.003}, {"sweep": "b4", "t": 0.018, "i": -0.006}, {"sweep": "b4", "t": 0.033, "i": 0.002}, {"sweep": "b4", "t": 0.048, "i": -0.008}, {"sweep": "b4", "t": 0.063, "i": 0.005}, {"sweep": "b4", "t": 0.078, "i": -0.002}, {"sweep": "b4", "t": 0.093, "i": -0.007}, {"sweep": "b4", "t": 0.0995, "i": 0.001},
      {"sweep": "b4", "t": 0.1005, "i": -0.004}, {"sweep": "b4", "t": 0.115, "i": 0.006}, {"sweep": "b4", "t": 0.13, "i": -0.002}, {"sweep": "b4", "t": 0.145, "i": 0.008}, {"sweep": "b4", "t": 0.16, "i": 0.001}, {"sweep": "b4", "t": 0.175, "i": -0.005}, {"sweep": "b4", "t": 0.19, "i": 0.005}, {"sweep": "b4", "t": 0.205, "i": 0.009}, {"sweep": "b4", "t": 0.22, "i": -0.001}, {"sweep": "b4", "t": 0.235, "i": 0.004}, {"sweep": "b4", "t": 0.25, "i": -0.003}, {"sweep": "b4", "t": 0.265, "i": 0.007}, {"sweep": "b4", "t": 0.28, "i": 0.002}, {"sweep": "b4", "t": 0.295, "i": -0.004}, {"sweep": "b4", "t": 0.31, "i": 0.006}, {"sweep": "b4", "t": 0.325, "i": 0.001}, {"sweep": "b4", "t": 0.34, "i": 0.008}, {"sweep": "b4", "t": 0.355, "i": -0.002}, {"sweep": "b4", "t": 0.37, "i": 0.005}, {"sweep": "b4", "t": 0.385, "i": 0.01}, {"sweep": "b4", "t": 0.4, "i": 0.003}, {"sweep": "b4", "t": 0.415, "i": -0.001}, {"sweep": "b4", "t": 0.43, "i": 0.007}, {"sweep": "b4", "t": 0.445, "i": 0.002}, {"sweep": "b4", "t": 0.46, "i": 0.009}, {"sweep": "b4", "t": 0.475, "i": 0.004}, {"sweep": "b4", "t": 0.49, "i": -0.002}, {"sweep": "b4", "t": 0.505, "i": 0.006}, {"sweep": "b4", "t": 0.52, "i": 0.011}, {"sweep": "b4", "t": 0.535, "i": 0.003}, {"sweep": "b4", "t": 0.55, "i": 0.008}, {"sweep": "b4", "t": 0.565, "i": 0.001}, {"sweep": "b4", "t": 0.58, "i": 0.006}, {"sweep": "b4", "t": 0.595, "i": 0.01}, {"sweep": "b4", "t": 0.5995, "i": 0.004},
      {"sweep": "b4", "t": 0.6005, "i": 0.002}, {"sweep": "b4", "t": 0.615, "i": -0.004}, {"sweep": "b4", "t": 0.63, "i": 0.005}, {"sweep": "b4", "t": 0.645, "i": -0.002}, {"sweep": "b4", "t": 0.66, "i": 0.007}, {"sweep": "b4", "t": 0.675, "i": 0.0}, {"sweep": "b4", "t": 0.69, "i": 0.004}, {"sweep": "b4", "t": 0.699, "i": -0.003},

      {"sweep": "b5", "t": 0.003, "i": -0.003}, {"sweep": "b5", "t": 0.0055, "i": -0.004}, {"sweep": "b5", "t": 0.0065, "i": -0.093}, {"sweep": "b5", "t": 0.0075, "i": -0.008}, {"sweep": "b5", "t": 0.018, "i": 0.004}, {"sweep": "b5", "t": 0.033, "i": -0.008}, {"sweep": "b5", "t": 0.048, "i": 0.001}, {"sweep": "b5", "t": 0.063, "i": -0.005}, {"sweep": "b5", "t": 0.078, "i": 0.006}, {"sweep": "b5", "t": 0.093, "i": -0.002}, {"sweep": "b5", "t": 0.0995, "i": 0.003},
      {"sweep": "b5", "t": 0.1005, "i": -0.009}, {"sweep": "b5", "t": 0.115, "i": -0.001}, {"sweep": "b5", "t": 0.13, "i": -0.007}, {"sweep": "b5", "t": 0.145, "i": 0.002}, {"sweep": "b5", "t": 0.16, "i": -0.004}, {"sweep": "b5", "t": 0.175, "i": -0.01}, {"sweep": "b5", "t": 0.19, "i": -0.002}, {"sweep": "b5", "t": 0.205, "i": -0.006}, {"sweep": "b5", "t": 0.22, "i": 0.001}, {"sweep": "b5", "t": 0.235, "i": -0.008}, {"sweep": "b5", "t": 0.25, "i": -0.003}, {"sweep": "b5", "t": 0.265, "i": -0.011}, {"sweep": "b5", "t": 0.28, "i": -0.001}, {"sweep": "b5", "t": 0.295, "i": -0.005}, {"sweep": "b5", "t": 0.31, "i": 0.002}, {"sweep": "b5", "t": 0.325, "i": -0.007}, {"sweep": "b5", "t": 0.34, "i": -0.002}, {"sweep": "b5", "t": 0.355, "i": -0.009}, {"sweep": "b5", "t": 0.37, "i": -0.004}, {"sweep": "b5", "t": 0.385, "i": 0.0}, {"sweep": "b5", "t": 0.4, "i": -0.006}, {"sweep": "b5", "t": 0.415, "i": -0.01}, {"sweep": "b5", "t": 0.43, "i": -0.003}, {"sweep": "b5", "t": 0.445, "i": -0.007}, {"sweep": "b5", "t": 0.46, "i": 0.001}, {"sweep": "b5", "t": 0.475, "i": -0.005}, {"sweep": "b5", "t": 0.49, "i": -0.009}, {"sweep": "b5", "t": 0.505, "i": -0.002}, {"sweep": "b5", "t": 0.52, "i": -0.006}, {"sweep": "b5", "t": 0.535, "i": -0.001}, {"sweep": "b5", "t": 0.55, "i": -0.008}, {"sweep": "b5", "t": 0.565, "i": -0.003}, {"sweep": "b5", "t": 0.58, "i": -0.007}, {"sweep": "b5", "t": 0.595, "i": 0.0}, {"sweep": "b5", "t": 0.5995, "i": -0.004},
      {"sweep": "b5", "t": 0.6005, "i": -0.002}, {"sweep": "b5", "t": 0.615, "i": -0.008}, {"sweep": "b5", "t": 0.63, "i": -0.003}, {"sweep": "b5", "t": 0.645, "i": -0.009}, {"sweep": "b5", "t": 0.66, "i": -0.001}, {"sweep": "b5", "t": 0.675, "i": -0.006}, {"sweep": "b5", "t": 0.69, "i": -0.011}, {"sweep": "b5", "t": 0.699, "i": -0.004},

      {"sweep": "b6", "t": 0.003, "i": 0.001}, {"sweep": "b6", "t": 0.018, "i": -0.005}, {"sweep": "b6", "t": 0.033, "i": 0.004}, {"sweep": "b6", "t": 0.048, "i": -0.009}, {"sweep": "b6", "t": 0.063, "i": 0.002}, {"sweep": "b6", "t": 0.078, "i": -0.004}, {"sweep": "b6", "t": 0.093, "i": 0.007}, {"sweep": "b6", "t": 0.0995, "i": -0.003},
      {"sweep": "b6", "t": 0.1005, "i": -0.016}, {"sweep": "b6", "t": 0.115, "i": -0.009}, {"sweep": "b6", "t": 0.13, "i": -0.014}, {"sweep": "b6", "t": 0.145, "i": -0.007}, {"sweep": "b6", "t": 0.16, "i": -0.018}, {"sweep": "b6", "t": 0.175, "i": -0.011}, {"sweep": "b6", "t": 0.19, "i": -0.015}, {"sweep": "b6", "t": 0.205, "i": -0.008}, {"sweep": "b6", "t": 0.22, "i": -0.013}, {"sweep": "b6", "t": 0.235, "i": -0.019}, {"sweep": "b6", "t": 0.25, "i": -0.01}, {"sweep": "b6", "t": 0.265, "i": -0.014}, {"sweep": "b6", "t": 0.28, "i": -0.006}, {"sweep": "b6", "t": 0.295, "i": -0.012}, {"sweep": "b6", "t": 0.31, "i": -0.017}, {"sweep": "b6", "t": 0.325, "i": -0.009}, {"sweep": "b6", "t": 0.34, "i": -0.013}, {"sweep": "b6", "t": 0.355, "i": -0.02}, {"sweep": "b6", "t": 0.37, "i": -0.011}, {"sweep": "b6", "t": 0.385, "i": -0.015}, {"sweep": "b6", "t": 0.4, "i": -0.008}, {"sweep": "b6", "t": 0.415, "i": -0.012}, {"sweep": "b6", "t": 0.43, "i": -0.018}, {"sweep": "b6", "t": 0.445, "i": -0.01}, {"sweep": "b6", "t": 0.46, "i": -0.014}, {"sweep": "b6", "t": 0.475, "i": -0.007}, {"sweep": "b6", "t": 0.49, "i": -0.013}, {"sweep": "b6", "t": 0.505, "i": -0.017}, {"sweep": "b6", "t": 0.52, "i": -0.01}, {"sweep": "b6", "t": 0.535, "i": -0.015}, {"sweep": "b6", "t": 0.55, "i": -0.009}, {"sweep": "b6", "t": 0.565, "i": -0.012}, {"sweep": "b6", "t": 0.58, "i": -0.016}, {"sweep": "b6", "t": 0.595, "i": -0.011}, {"sweep": "b6", "t": 0.5995, "i": -0.014},
      {"sweep": "b6", "t": 0.6005, "i": -0.01}, {"sweep": "b6", "t": 0.615, "i": -0.004}, {"sweep": "b6", "t": 0.63, "i": -0.012}, {"sweep": "b6", "t": 0.645, "i": -0.006}, {"sweep": "b6", "t": 0.66, "i": -0.014}, {"sweep": "b6", "t": 0.675, "i": -0.008}, {"sweep": "b6", "t": 0.69, "i": -0.003}, {"sweep": "b6", "t": 0.699, "i": -0.011},

      {"sweep": "b7", "t": 0.003, "i": -0.004}, {"sweep": "b7", "t": 0.018, "i": 0.002}, {"sweep": "b7", "t": 0.033, "i": -0.007}, {"sweep": "b7", "t": 0.048, "i": 0.005}, {"sweep": "b7", "t": 0.063, "i": -0.002}, {"sweep": "b7", "t": 0.078, "i": 0.003}, {"sweep": "b7", "t": 0.093, "i": -0.006}, {"sweep": "b7", "t": 0.0995, "i": 0.0},
      {"sweep": "b7", "t": 0.1005, "i": -0.024}, {"sweep": "b7", "t": 0.115, "i": -0.018}, {"sweep": "b7", "t": 0.13, "i": -0.022}, {"sweep": "b7", "t": 0.145, "i": -0.027}, {"sweep": "b7", "t": 0.16, "i": -0.019}, {"sweep": "b7", "t": 0.175, "i": -0.023}, {"sweep": "b7", "t": 0.19, "i": -0.016}, {"sweep": "b7", "t": 0.205, "i": -0.021}, {"sweep": "b7", "t": 0.22, "i": -0.026}, {"sweep": "b7", "t": 0.235, "i": -0.02}, {"sweep": "b7", "t": 0.25, "i": -0.024}, {"sweep": "b7", "t": 0.265, "i": -0.017}, {"sweep": "b7", "t": 0.28, "i": -0.022}, {"sweep": "b7", "t": 0.295, "i": -0.028}, {"sweep": "b7", "t": 0.31, "i": -0.021}, {"sweep": "b7", "t": 0.325, "i": -0.025}, {"sweep": "b7", "t": 0.34, "i": -0.019}, {"sweep": "b7", "t": 0.355, "i": -0.023}, {"sweep": "b7", "t": 0.37, "i": -0.018}, {"sweep": "b7", "t": 0.385, "i": -0.024}, {"sweep": "b7", "t": 0.4, "i": -0.02}, {"sweep": "b7", "t": 0.415, "i": -0.026}, {"sweep": "b7", "t": 0.43, "i": -0.022}, {"sweep": "b7", "t": 0.445, "i": -0.017}, {"sweep": "b7", "t": 0.46, "i": -0.023}, {"sweep": "b7", "t": 0.475, "i": -0.019}, {"sweep": "b7", "t": 0.49, "i": -0.025}, {"sweep": "b7", "t": 0.505, "i": -0.021}, {"sweep": "b7", "t": 0.52, "i": -0.018}, {"sweep": "b7", "t": 0.535, "i": -0.024}, {"sweep": "b7", "t": 0.55, "i": -0.02}, {"sweep": "b7", "t": 0.565, "i": -0.016}, {"sweep": "b7", "t": 0.58, "i": -0.022}, {"sweep": "b7", "t": 0.595, "i": -0.019}, {"sweep": "b7", "t": 0.5995, "i": -0.021},
      {"sweep": "b7", "t": 0.6005, "i": -0.015}, {"sweep": "b7", "t": 0.615, "i": -0.009}, {"sweep": "b7", "t": 0.63, "i": -0.014}, {"sweep": "b7", "t": 0.645, "i": -0.006}, {"sweep": "b7", "t": 0.66, "i": -0.012}, {"sweep": "b7", "t": 0.675, "i": -0.017}, {"sweep": "b7", "t": 0.69, "i": -0.008}, {"sweep": "b7", "t": 0.699, "i": -0.013},

      {"sweep": "b8", "t": 0.003, "i": 0.002}, {"sweep": "b8", "t": 0.018, "i": -0.003}, {"sweep": "b8", "t": 0.033, "i": 0.005}, {"sweep": "b8", "t": 0.048, "i": -0.001}, {"sweep": "b8", "t": 0.063, "i": 0.004}, {"sweep": "b8", "t": 0.078, "i": -0.005}, {"sweep": "b8", "t": 0.093, "i": 0.001}, {"sweep": "b8", "t": 0.0995, "i": -0.002},
      {"sweep": "b8", "t": 0.1005, "i": -0.03}, {"sweep": "b8", "t": 0.115, "i": -0.027}, {"sweep": "b8", "t": 0.13, "i": -0.029}, {"sweep": "b8", "t": 0.145, "i": -0.026}, {"sweep": "b8", "t": 0.16, "i": -0.03}, {"sweep": "b8", "t": 0.175, "i": -0.028}, {"sweep": "b8", "t": 0.19, "i": -0.031}, {"sweep": "b8", "t": 0.205, "i": -0.027}, {"sweep": "b8", "t": 0.22, "i": -0.029}, {"sweep": "b8", "t": 0.235, "i": -0.032}, {"sweep": "b8", "t": 0.25, "i": -0.028}, {"sweep": "b8", "t": 0.265, "i": -0.03}, {"sweep": "b8", "t": 0.28, "i": -0.026}, {"sweep": "b8", "t": 0.295, "i": -0.029}, {"sweep": "b8", "t": 0.31, "i": -0.031}, {"sweep": "b8", "t": 0.325, "i": -0.028}, {"sweep": "b8", "t": 0.34, "i": -0.03}, {"sweep": "b8", "t": 0.355, "i": -0.027}, {"sweep": "b8", "t": 0.37, "i": -0.029}, {"sweep": "b8", "t": 0.385, "i": -0.031}, {"sweep": "b8", "t": 0.4, "i": -0.028}, {"sweep": "b8", "t": 0.415, "i": -0.026}, {"sweep": "b8", "t": 0.43, "i": -0.029}, {"sweep": "b8", "t": 0.445, "i": -0.027}, {"sweep": "b8", "t": 0.46, "i": -0.03}, {"sweep": "b8", "t": 0.475, "i": -0.028}, {"sweep": "b8", "t": 0.49, "i": -0.025}, {"sweep": "b8", "t": 0.505, "i": -0.029}, {"sweep": "b8", "t": 0.52, "i": -0.027}, {"sweep": "b8", "t": 0.535, "i": -0.03}, {"sweep": "b8", "t": 0.55, "i": -0.026}, {"sweep": "b8", "t": 0.565, "i": -0.028}, {"sweep": "b8", "t": 0.58, "i": -0.025}, {"sweep": "b8", "t": 0.595, "i": -0.027}, {"sweep": "b8", "t": 0.5995, "i": -0.026},
      {"sweep": "b8", "t": 0.6005, "i": -0.004}, {"sweep": "b8", "t": 0.615, "i": 0.003}, {"sweep": "b8", "t": 0.63, "i": -0.006}, {"sweep": "b8", "t": 0.645, "i": 0.001}, {"sweep": "b8", "t": 0.66, "i": -0.003}, {"sweep": "b8", "t": 0.675, "i": 0.004}, {"sweep": "b8", "t": 0.69, "i": -0.002}, {"sweep": "b8", "t": 0.699, "i": 0.002},

      {"sweep": "b9", "t": 0.003, "i": 0.004}, {"sweep": "b9", "t": 0.018, "i": 0.0}, {"sweep": "b9", "t": 0.033, "i": 0.007}, {"sweep": "b9", "t": 0.048, "i": -0.003}, {"sweep": "b9", "t": 0.063, "i": 0.01}, {"sweep": "b9", "t": 0.078, "i": 0.002}, {"sweep": "b9", "t": 0.093, "i": 0.005}, {"sweep": "b9", "t": 0.0995, "i": 0.001},
      {"sweep": "b9", "t": 0.1005, "i": 0.02}, {"sweep": "b9", "t": 0.115, "i": 0.015}, {"sweep": "b9", "t": 0.13, "i": 0.022}, {"sweep": "b9", "t": 0.145, "i": 0.012}, {"sweep": "b9", "t": 0.16, "i": 0.019}, {"sweep": "b9", "t": 0.175, "i": 0.025}, {"sweep": "b9", "t": 0.19, "i": 0.018}, {"sweep": "b9", "t": 0.205, "i": 0.014}, {"sweep": "b9", "t": 0.22, "i": 0.021}, {"sweep": "b9", "t": 0.235, "i": 0.018}, {"sweep": "b9", "t": 0.246, "i": 0.02}, {"sweep": "b9", "t": 0.248, "i": 0.04}, {"sweep": "b9", "t": 0.258, "i": 0.041}, {"sweep": "b9", "t": 0.26, "i": 0.026}, {"sweep": "b9", "t": 0.266, "i": 0.027}, {"sweep": "b9", "t": 0.268, "i": 0.04}, {"sweep": "b9", "t": 0.275, "i": 0.039}, {"sweep": "b9", "t": 0.282, "i": 0.042}, {"sweep": "b9", "t": 0.284, "i": 0.03}, {"sweep": "b9", "t": 0.29, "i": 0.044}, {"sweep": "b9", "t": 0.294, "i": 0.04}, {"sweep": "b9", "t": 0.296, "i": 0.028}, {"sweep": "b9", "t": 0.31, "i": 0.026}, {"sweep": "b9", "t": 0.318, "i": 0.05}, {"sweep": "b9", "t": 0.321, "i": 0.03}, {"sweep": "b9", "t": 0.34, "i": 0.03}, {"sweep": "b9", "t": 0.355, "i": 0.035}, {"sweep": "b9", "t": 0.37, "i": 0.032}, {"sweep": "b9", "t": 0.385, "i": 0.036}, {"sweep": "b9", "t": 0.4, "i": 0.03}, {"sweep": "b9", "t": 0.415, "i": 0.038}, {"sweep": "b9", "t": 0.43, "i": 0.034}, {"sweep": "b9", "t": 0.445, "i": 0.04}, {"sweep": "b9", "t": 0.46, "i": 0.036}, {"sweep": "b9", "t": 0.475, "i": 0.043}, {"sweep": "b9", "t": 0.49, "i": 0.039}, {"sweep": "b9", "t": 0.505, "i": 0.045}, {"sweep": "b9", "t": 0.52, "i": 0.041}, {"sweep": "b9", "t": 0.535, "i": 0.047}, {"sweep": "b9", "t": 0.55, "i": 0.043}, {"sweep": "b9", "t": 0.565, "i": 0.049}, {"sweep": "b9", "t": 0.58, "i": 0.045}, {"sweep": "b9", "t": 0.595, "i": 0.05}, {"sweep": "b9", "t": 0.5995, "i": 0.047},
      {"sweep": "b9", "t": 0.6005, "i": 0.077}, {"sweep": "b9", "t": 0.608, "i": 0.068}, {"sweep": "b9", "t": 0.615, "i": 0.07}, {"sweep": "b9", "t": 0.625, "i": 0.066}, {"sweep": "b9", "t": 0.635, "i": 0.064}, {"sweep": "b9", "t": 0.645, "i": 0.07}, {"sweep": "b9", "t": 0.655, "i": 0.073}, {"sweep": "b9", "t": 0.663, "i": 0.072}, {"sweep": "b9", "t": 0.67, "i": 0.05}, {"sweep": "b9", "t": 0.675, "i": 0.058}, {"sweep": "b9", "t": 0.68, "i": 0.04}, {"sweep": "b9", "t": 0.685, "i": 0.058}, {"sweep": "b9", "t": 0.693, "i": 0.066}, {"sweep": "b9", "t": 0.699, "i": 0.078}
    ]
  },
  "layer": [
    {
      "data": {"name": "sweeps"},
      "mark": {"type": "line", "color": "#ff0000", "strokeWidth": 1.4, "clip": true},
      "encoding": {
        "x": {
          "field": "t",
          "type": "quantitative",
          "scale": {"domain": [0.0018, 0.6993], "nice": false, "zero": false},
          "axis": {
            "values": [0.1, 0.6],
            "format": ".1f",
            "title": "t [s]",
            "grid": false,
            "domainColor": "#5a5a5a",
            "tickColor": "#5a5a5a",
            "tickSize": -6,
            "labelPadding": 34,
            "labelBaseline": "alphabetic",
            "labelFont": "DejaVu Sans",
            "labelFontSize": 22,
            "labelColor": "#262626",
            "labelFlush": false,
            "titleFont": "DejaVu Sans",
            "titleFontSize": 24,
            "titleFontWeight": "normal",
            "titleColor": "#262626",
            "titleY": 62,
            "titleBaseline": "alphabetic"
          }
        },
        "y": {
          "field": "i",
          "type": "quantitative",
          "scale": {"domain": [-0.92, 0.33], "nice": false, "zero": false},
          "axis": {
            "values": [-0.8, -0.4, 0],
            "labelExpr": "datum.value == 0 ? '0' : '-' + format(-datum.value, '.1f')",
            "title": "I [nA]",
            "grid": false,
            "domainColor": "#5a5a5a",
            "tickColor": "#5a5a5a",
            "tickSize": -6,
            "labelPadding": {"condition": {"test": "datum.value == 0", "value": 39}, "value": 15},
            "labelFont": "DejaVu Sans",
            "labelFontSize": 22,
            "labelColor": "#262626",
            "labelFlush": false,
            "titleFont": "DejaVu Sans",
            "titleFontSize": 24,
            "titleFontWeight": "normal",
            "titleColor": "#262626",
            "titleAngle": 270,
            "titleAlign": "center",
            "titleBaseline": "alphabetic",
            "titleX": -64,
            "titleY": 235
          }
        },
        "detail": {"field": "sweep", "type": "nominal"}
      }
    },
    {
      "data": {"values": [{"label": "35 °C\u00a0 Activation"}]},
      "mark": {"type": "text", "align": "right", "baseline": "alphabetic", "font": "DejaVu Sans", "fontSize": 19, "color": "#000000"},
      "encoding": {
        "x": {"datum": 0.697, "type": "quantitative"},
        "y": {
          "datum": 0.319,
          "type": "quantitative",
          "axis": {
            "orient": "right",
            "title": "BBP Channelpedia ID 29386 rep 1",
            "labels": false,
            "ticks": false,
            "domain": false,
            "grid": false,
            "titleFont": "DejaVu Sans",
            "titleFontSize": 13,
            "titleFontWeight": "normal",
            "titleColor": "#000000",
            "titleAngle": 270,
            "titleAlign": "center",
            "titleBaseline": "alphabetic",
            "titleX": 16,
            "titleY": 235
          }
        },
        "text": {"field": "label"}
      }
    }
  ],
  "resolve": {"axis": {"y": "independent"}},
  "config": {"view": {"stroke": null}, "font": "DejaVu Sans"}
}
